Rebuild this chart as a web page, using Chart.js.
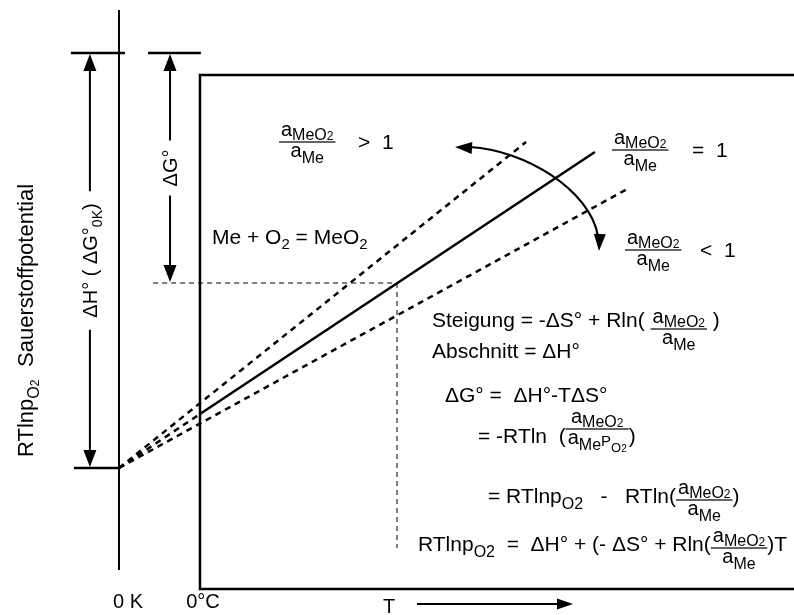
<!DOCTYPE html>
<html><head><meta charset="utf-8">
<script src="https://cdn.jsdelivr.net/npm/chart.js@4"></script>
<style>html,body{margin:0;padding:0;background:#fff}#wrap{width:794px;height:615px}</style>
</head><body><div id="wrap"><canvas id="c"></canvas></div>
<script>
// Temperature T in K, oxygen potential RT ln pO2 in kJ (schematic)
const dH = -415;                  // ΔH°, intercept at 0 K
const tempEq = [273, 1604];       // a_MeO2/a_Me = 1 (solid, above 0 °C)
const potEq = [-361, -99];
const tempEqExt = [0, 273];       // same line extrapolated to 0 K
const potEqExt = [-415, -361];
const tempHigh = [0, 1372];       // a_MeO2/a_Me > 1
const potHigh = [-415, -89];
const tempLow = [0, 1719];        // a_MeO2/a_Me < 1
const potLow = [-415, -135];
const tMark = 937;
const gMark = -230;               // ΔG° on the solid line at tMark
const boxTemps = [2400, 273, 273, 2400];   // diagram frame starting at 0 °C
const boxPots = [-22, -22, -536, -536];
const axisTemps = [0, 0];                  // 0 K axis
const axisPots = [43, -517];
const tickLabels = ['0 K', '0°C', 'T'];
const tickTemps = [0, 273, tMark];

const FAM = '"Liberation Sans", Arial, Helvetica, sans-serif';
const pts = (xs, ys) => xs.map((x, i) => ({x, y: ys[i]}));
const line = (data, w, dash) => ({data, showLine: true, pointRadius: 0, borderColor: '#000',
  borderWidth: w, borderDash: dash || [], fill: false, tension: 0});

function runsWidth(ctx, runs) {
  let w = 0;
  for (const r of runs) { ctx.font = r.s + 'px ' + FAM; w += ctx.measureText(r.t).width; }
  return w;
}
function drawRuns(ctx, x, y, runs) {
  let cx = x;
  for (const r of runs) {
    ctx.font = r.s + 'px ' + FAM;
    ctx.fillText(r.t, cx, y + (r.dy || 0));
    cx += ctx.measureText(r.t).width;
  }
  return cx;
}
function frac(ctx, x, yL, num, den, pad) {
  const wn = runsWidth(ctx, num), wd = runsWidth(ctx, den);
  const w = Math.max(wn, wd) + 2 * pad;
  drawRuns(ctx, x + (w - wn) / 2, yL - 6, num);
  drawRuns(ctx, x + (w - wd) / 2, yL + 15, den);
  ctx.fillRect(x, yL - 0.6, w, 1.2);
  return x + w;
}
// x, baseline, list of run arrays or {num, den, dy}
function drawExpr(ctx, x, y, parts) {
  let cx = x;
  for (const p of parts) {
    if (Array.isArray(p)) cx = drawRuns(ctx, cx, y, p);
    else cx = frac(ctx, cx, y + p.dy, p.num, p.den, 2);
  }
  return cx;
}
function head(ctx, x, y, ang, len, hw) {
  ctx.save(); ctx.translate(x, y); ctx.rotate(ang);
  ctx.beginPath(); ctx.moveTo(0, 0); ctx.lineTo(-len, -hw); ctx.lineTo(-len, hw); ctx.closePath();
  ctx.fill(); ctx.restore();
}
const R = (t, s, dy) => ({t, s, dy: dy || 0});
const numMeO2 = [R('a', 20), R('MeO', 16, 4), R('2', 12, 4)];
const denMe = [R('a', 20), R('Me', 16, 6)];
const denMeP = [R('a', 20), R('Me', 16, 6), R('P', 15, 2), R('O', 13, 8), R('2', 10, 8)];

const notes = {
  id: 'notes',
  afterDatasetsDraw(chart) {
    const ctx = chart.ctx, xs = chart.scales.x, ys = chart.scales.y;
    const X = v => xs.getPixelForValue(v), Y = v => ys.getPixelForValue(v);
    ctx.save();
    ctx.fillStyle = '#000'; ctx.strokeStyle = '#000'; ctx.textBaseline = 'alphabetic';

    // reference levels: zero and ΔH°
    ctx.lineWidth = 2.5;
    ctx.beginPath();
    ctx.moveTo(X(-162), Y(0)); ctx.lineTo(X(20), Y(0));
    ctx.moveTo(X(98), Y(0)); ctx.lineTo(X(276), Y(0));
    ctx.moveTo(X(-152), Y(dH)); ctx.lineTo(X(0), Y(dH));
    ctx.stroke();

    // vertical double arrows with rotated labels
    function vArrow(t, v0, v1, runs, gap) {
      const x = X(t), y0 = Y(v0), y1 = Y(v1);
      const w = runsWidth(ctx, runs), mid = (y0 + y1) / 2;
      ctx.lineWidth = 2;
      ctx.beginPath();
      ctx.moveTo(x, y0 + 14); ctx.lineTo(x, mid - w / 2 - gap);
      ctx.moveTo(x, mid + w / 2 + gap); ctx.lineTo(x, y1 - 14);
      ctx.stroke();
      head(ctx, x, y0 + 1, -Math.PI / 2, 17, 6.5);
      head(ctx, x, y1 - 1, Math.PI / 2, 17, 6.5);
      ctx.save(); ctx.translate(x + 7, mid + w / 2); ctx.rotate(-Math.PI / 2);
      drawRuns(ctx, 0, 0, runs); ctx.restore();
    }
    vArrow(-98, 0, dH, [R('ΔH° ( ΔG°', 20), R('0K', 14, 5), R(')', 20)], 12);
    vArrow(172, 0, gMark, [R('ΔG°', 20)], 9);

    // y title
    ctx.save(); ctx.translate(33, 457); ctx.rotate(-Math.PI / 2);
    drawRuns(ctx, 0, 0, [R('RTlnp', 22), R('O', 16, 6), R('2', 12, 6)]);
    drawRuns(ctx, 90, 0, [R('Sauerstoffpotential', 22)]);
    ctx.restore();

    // temperature labels
    ctx.font = '20px ' + FAM; ctx.textAlign = 'center';
    ctx.fillText(tickLabels[0], X(tickTemps[0]) + 9, 608);
    ctx.fillText(tickLabels[1], X(tickTemps[1]) + 3, 608);
    ctx.fillText(tickLabels[2], X(tickTemps[2]) - 8, 613);
    ctx.textAlign = 'left';
    ctx.lineWidth = 2;
    ctx.beginPath(); ctx.moveTo(417, 604); ctx.lineTo(558, 604); ctx.stroke();
    head(ctx, 573, 604, 0, 16, 5.5);

    // curved arrow across the family of lines
    ctx.lineWidth = 2.2;
    ctx.beginPath();
    ctx.moveTo(470, 147); ctx.bezierCurveTo(525, 150, 590, 190, 598, 236);
    ctx.stroke();
    head(ctx, 455, 147, Math.PI + 0.06, 17, 6);
    head(ctx, 599, 251, Math.PI / 2 + 0.05, 17, 6);

    // line labels
    frac(ctx, 279, 142, numMeO2, denMe, 2);
    drawRuns(ctx, 358, 149, [R('>  1', 21)]);
    frac(ctx, 612, 150, numMeO2, denMe, 2);
    drawRuns(ctx, 692, 157, [R('=  1', 21)]);
    frac(ctx, 625, 250, numMeO2, denMe, 2);
    drawRuns(ctx, 700, 257, [R('<  1', 21)]);
    drawRuns(ctx, 212, 244, [R('Me + O', 21), R('2', 15, 5), R(' = MeO', 21), R('2', 15, 5)]);

    // equations
    drawExpr(ctx, 432, 327, [[R('Steigung = -ΔS° + Rln( ', 21)], {num: numMeO2, den: denMe, dy: 2}, [R(' )', 21)]]);
    drawExpr(ctx, 432, 358, [[R('Abschnitt = ΔH°', 21)]]);
    drawExpr(ctx, 445, 402, [[R('ΔG° =  ΔH°-TΔS°', 21)]]);
    drawExpr(ctx, 478, 443, [[R('= -RTln  (', 21)], {num: numMeO2, den: denMeP, dy: -14}, [R(')', 21)]]);
    drawExpr(ctx, 488, 503, [[R('= RTlnp', 21), R('O2', 16, 6), R('   -   RTln(', 21)],
      {num: numMeO2, den: denMe, dy: -3}, [R(')', 21)]]);
    drawExpr(ctx, 418, 551, [[R('RTlnp', 21), R('O2', 16, 6), R('  =  ΔH° + (- ΔS° + Rln(', 21)],
      {num: numMeO2, den: denMe, dy: -3}, [R(')T', 21)]]);
    ctx.restore();
  }
};

new Chart(document.getElementById('c'), {
  type: 'scatter',
  data: {datasets: [
    line(pts(boxTemps, boxPots), 2.5),
    line(pts(axisTemps, axisPots), 2),
    line(pts(tempEqExt, potEqExt), 2.5, [6, 5]),
    line(pts(tempHigh, potHigh), 2.5, [6, 5]),
    line(pts(tempLow, potLow), 2.5, [6, 5]),
    line(pts(tempEq, potEq), 2.5),
    line(pts([115, tMark], [gMark, gMark]), 1, [5, 4]),
    line(pts([tMark, tMark], [gMark, -495]), 1, [5, 4])
  ]},
  options: {
    responsive: true, maintainAspectRatio: false, animation: false, events: [],
    layout: {padding: 0},
    plugins: {legend: {display: false}, tooltip: {enabled: false}},
    scales: {
      x: {type: 'linear', min: -401, max: 2275, display: false},
      y: {type: 'linear', min: -562, max: 53, display: false}
    }
  },
  plugins: [notes]
});
</script></body></html>
